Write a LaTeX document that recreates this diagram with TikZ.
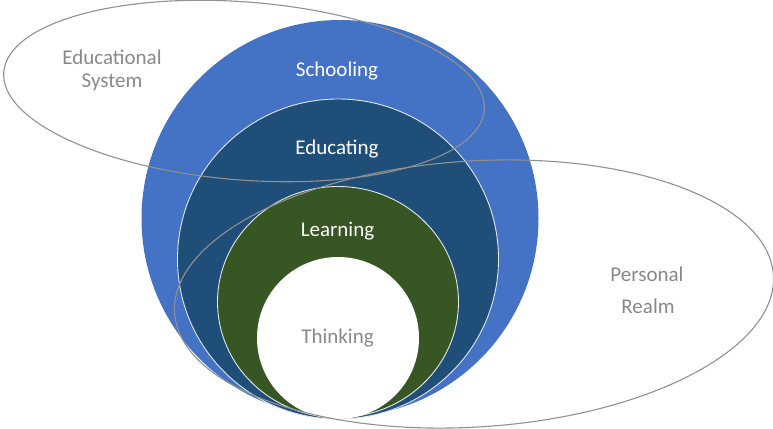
\documentclass[tikz,border=0pt]{standalone}
\usepackage{fontspec}
\setmainfont{Carlito}
\definecolor{outerblue}{RGB}{68,114,196}
\definecolor{darkblue}{RGB}{31,78,121}
\definecolor{darkgreen}{RGB}{55,86,35}
\definecolor{txtgray}{RGB}{137,137,137}
\definecolor{linegray}{RGB}{145,145,145}
\definecolor{rimwhite}{RGB}{225,230,235}
\tikzset{
  lbl/.style={anchor=base, inner sep=0pt, font=\fontsize{21}{25}\selectfont},
  realm/.style={draw=linegray, line width=1.1pt},
  rim/.style={draw=rimwhite, line width=0.9pt}
}
\begin{document}
\begin{tikzpicture}[x=1pt,y=-1pt]
\useasboundingbox (0,0) rectangle (773,428);
\fill[white] (0,0) rectangle (773,428);
% nested discs
\fill[outerblue] (340,218.5) circle [radius=198.5pt];
\filldraw[fill=darkblue, rim] (338,259) ellipse [x radius=160.5pt, y radius=160pt];
\filldraw[fill=darkgreen, rim] (338,302) ellipse [x radius=120.5pt, y radius=115.5pt];
\fill[white] (338,338) circle [radius=81pt];
% realm outlines
\draw[realm, rotate around={-4.5:(244,91)}] (244,91) ellipse [x radius=241pt, y radius=89pt];
\draw[realm, rotate around={3.6:(474,294)}] (474,294) ellipse [x radius=300pt, y radius=133pt];
% labels
\node[lbl, text=white] (schooling) at (337,77) {Schooling};
\node[lbl, text=white] (educating) at (337,154) {Educating};
\node[lbl, text=white] (learning) at (337.5,236) {Learning};
\node[lbl, text=txtgray] (thinking) at (337.5,343) {Thinking};
\node[lbl, text=txtgray] (edu1) at (112,64) {Educational};
\node[lbl, text=txtgray] (edu2) at (112,87) {System};
\node[lbl, text=txtgray] (per1) at (647,281) {Personal};
\node[lbl, text=txtgray] (per2) at (648,313) {Realm};
\end{tikzpicture}
\end{document}
